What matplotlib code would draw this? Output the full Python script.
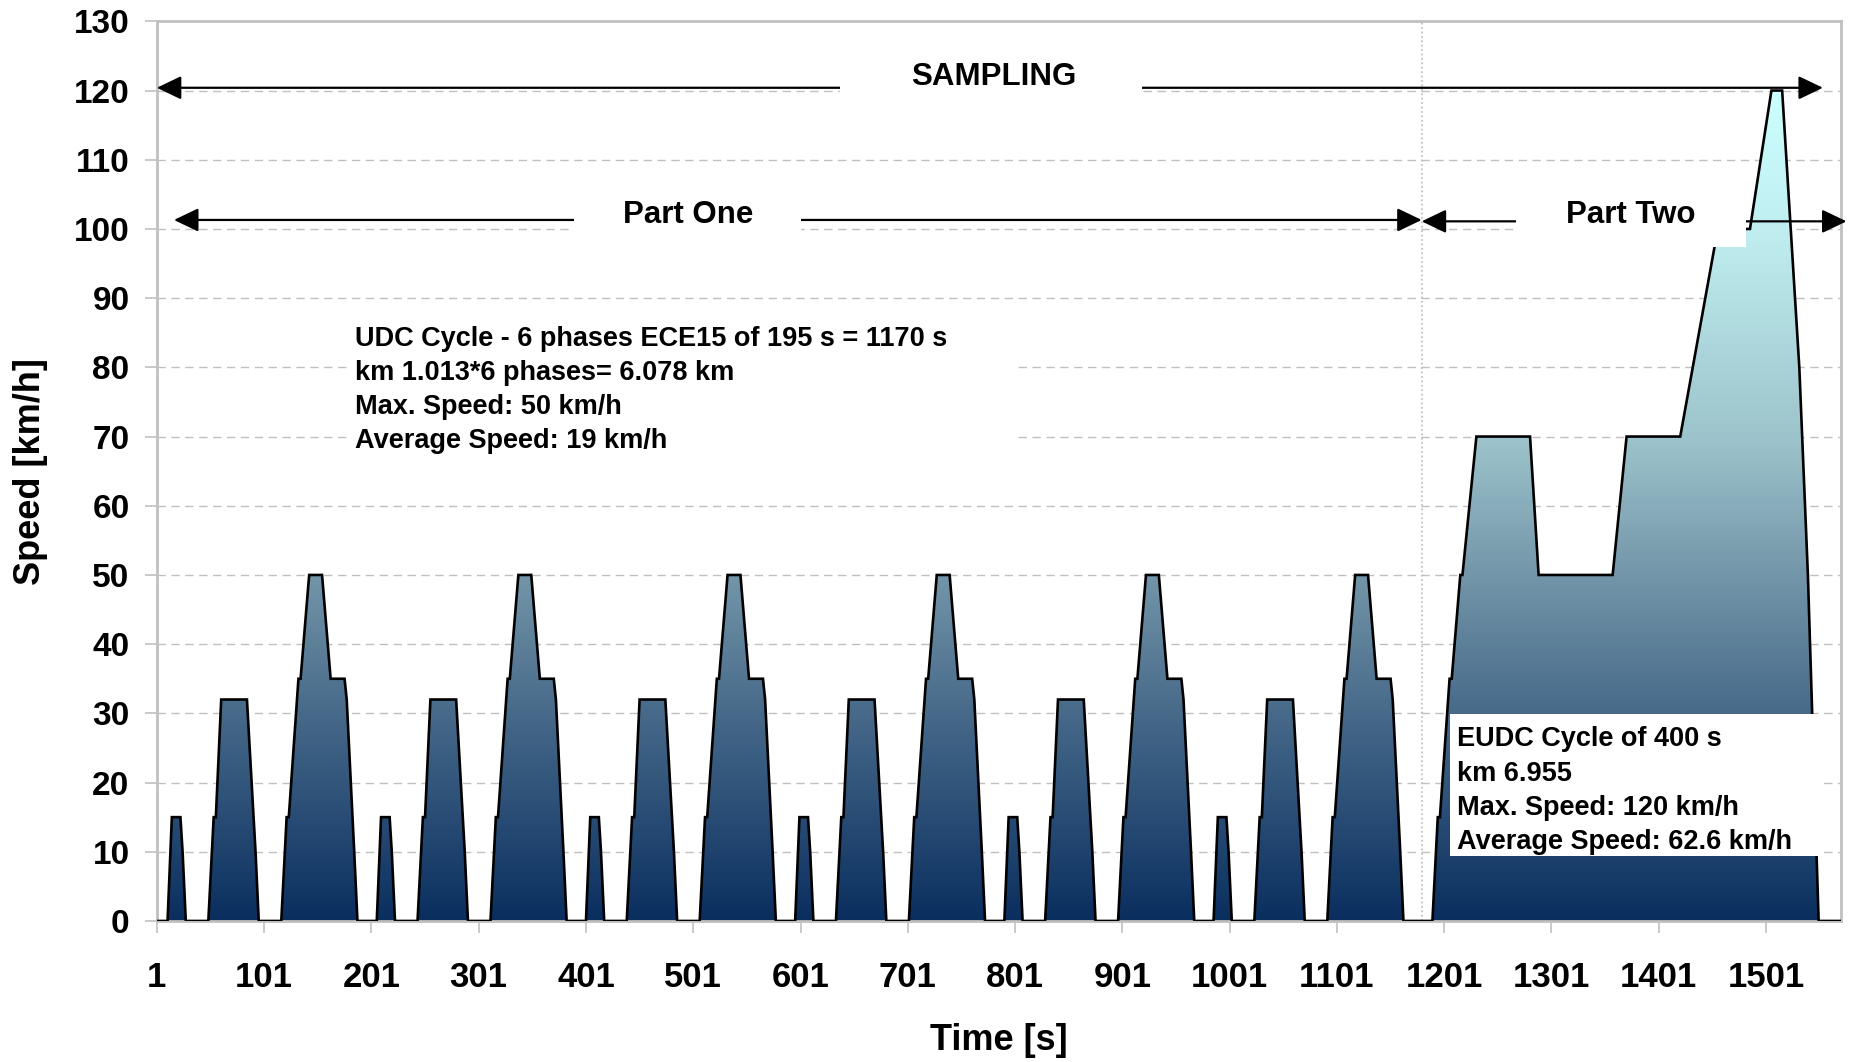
import numpy as np
import matplotlib
matplotlib.use("Agg")
import matplotlib.pyplot as plt
from matplotlib.colors import LinearSegmentedColormap
from matplotlib.patches import Polygon, Rectangle

plt.rcParams["font.family"] = ["Liberation Sans", "DejaVu Sans"]
plt.rcParams["font.weight"] = "bold"

# ECE15 elementary urban phase: breakpoints (s, km/h), repeated 6 times
ece_t = [0, 11, 15, 23, 25, 28, 49, 54, 56, 61, 85, 93, 96, 117, 122, 124,
         133, 135, 143, 155, 163, 176, 178, 185, 188, 195]
ece_v = [0, 0, 15, 15, 10, 0, 0, 15, 15, 32, 32, 10, 0, 0, 15, 15,
         35, 35, 50, 50, 35, 35, 32, 10, 0, 0]
ece_repeats = 6
ece_length = 195

# EUDC extra-urban phase: breakpoints relative to its start
eudc_t = [0, 20, 25, 27, 36, 38, 46, 48, 61, 111, 119, 188, 201, 251, 286,
          316, 336, 346, 362, 370, 380, 400]
eudc_v = [0, 0, 15, 15, 35, 35, 50, 50, 70, 70, 50, 50, 70, 70, 100,
          100, 120, 120, 80, 50, 0, 0]

x_ticks = [1, 101, 201, 301, 401, 501, 601, 701, 801, 901, 1001, 1101, 1201,
           1301, 1401, 1501]
y_ticks = list(range(0, 131, 10))

udc_lines = ["UDC Cycle - 6 phases ECE15 of 195 s = 1170 s",
             "km 1.013*6 phases= 6.078 km",
             "Max. Speed: 50 km/h",
             "Average Speed: 19 km/h"]
eudc_lines = ["EUDC Cycle of 400 s",
              "km 6.955",
              "Max. Speed: 120 km/h",
              "Average Speed: 62.6 km/h"]

# assemble the full profile
t, v = [], []
for k in range(ece_repeats):
    t += [x + k * ece_length for x in ece_t]
    v += ece_v
udc_end = ece_repeats * ece_length
t += [x + udc_end for x in eudc_t]
v += eudc_v
t = np.array(t, dtype=float)
v = np.array(v, dtype=float)

fig = plt.figure(figsize=(18.56, 10.62), dpi=100)
ax = fig.add_axes([0.0845, 0.1328, 0.9075, 0.8471])

GRID = "#c0c0c0"
ax.set_xlim(1, 1571)
ax.set_ylim(0, 130)

# horizontal dashed grid
for y in y_ticks[1:-1]:
    ax.axhline(y, color=GRID, lw=1.0, ls=(0, (6, 4)), zorder=1)
ax.axvline(1180, color="#b8b8b8", lw=1.2, ls=":", zorder=1)

# gradient fill under the speed trace
cmap = LinearSegmentedColormap.from_list(
    "speed", [(0.0, "#0a2f5f"), (0.25, "#476a8a"), (0.42, "#7597aa"),
              (0.58, "#9cc3cb"), (0.83, "#c0eef0"), (1.0, "#ccffff")])
outline = np.column_stack([np.r_[t[0], t, t[-1]], np.r_[0, v, 0]])
clip = Polygon(outline, closed=True, facecolor="none", edgecolor="none")
ax.add_patch(clip)
grad = np.linspace(0, 1, 256).reshape(-1, 1)
im = ax.imshow(grad, cmap=cmap, origin="lower", aspect="auto",
               extent=[t[0], t[-1], 0, 120], zorder=2)
im.set_clip_path(clip)
ax.plot(t, v, color="black", lw=1.9, zorder=3, solid_joinstyle="miter")
ax.set_xlim(1, 1571)
ax.set_ylim(0, 130)


def arrow(x0, x1, y):
    ax.annotate("", xy=(x1, y), xytext=(x0, y),
                arrowprops=dict(arrowstyle="<|-|>,head_length=0.75,head_width=0.36",
                                color="black", lw=1.6, shrinkA=0, shrinkB=0,
                                mutation_scale=20),
                annotation_clip=False, zorder=3.5)


def white_box(x0, x1, y0, y1):
    ax.add_patch(Rectangle((x0, y0), x1 - x0, y1 - y0, facecolor="white",
                           edgecolor="none", zorder=4))


arrow(1, 1554, 120.4)
arrow(17, 1180, 101.3)
arrow(1180, 1576, 101.1)

white_box(638, 919, 116.5, 126)
ax.text(781, 121.9, "SAMPLING", ha="center", va="center", fontsize=22.5, zorder=5)
white_box(390, 601, 97.4, 106)
ax.text(496, 102, "Part One", ha="center", va="center", fontsize=22.5, zorder=5)
white_box(1268, 1482, 97.4, 106)
ax.text(1375, 102, "Part Two", ha="center", va="center", fontsize=22.5, zorder=5)

white_box(178, 802, 67.2, 87.2)
for i, s in enumerate(udc_lines):
    ax.text(186, 84.6 - 4.95 * i, s, ha="left", va="center_baseline",
            fontsize=19.5, zorder=5)
white_box(1206, 1554, 9.4, 29.9)
for i, s in enumerate(eudc_lines):
    ax.text(1213, 26.7 - 4.97 * i, s, ha="left", va="center_baseline",
            fontsize=19.5, zorder=5)

# axes styling
for side in ["left", "top", "right", "bottom"]:
    ax.spines[side].set_color(GRID)
    ax.spines[side].set_linewidth(2.0)
ax.set_xticks(x_ticks)
ax.set_xticklabels([str(x) for x in x_ticks])
ax.set_yticks(y_ticks)
ax.tick_params(axis="both", color=GRID, length=8.6, width=1.2)
ax.tick_params(axis="y", labelsize=24, pad=11)
ax.tick_params(axis="x", labelsize=25, pad=20)

ax.set_xlabel("Time [s]", fontsize=26, fontweight="bold")
ax.set_ylabel("Speed [km/h]", fontsize=26, fontweight="bold")
ax.xaxis.set_label_coords(0.5, -0.1333)
ax.xaxis.label.set_va("center")
ax.yaxis.set_label_coords(-0.0748, 0.5)
ax.yaxis.label.set_va("center")
ax.yaxis.label.set_ha("center")

fig.savefig("out.png", dpi=100, facecolor="white")
